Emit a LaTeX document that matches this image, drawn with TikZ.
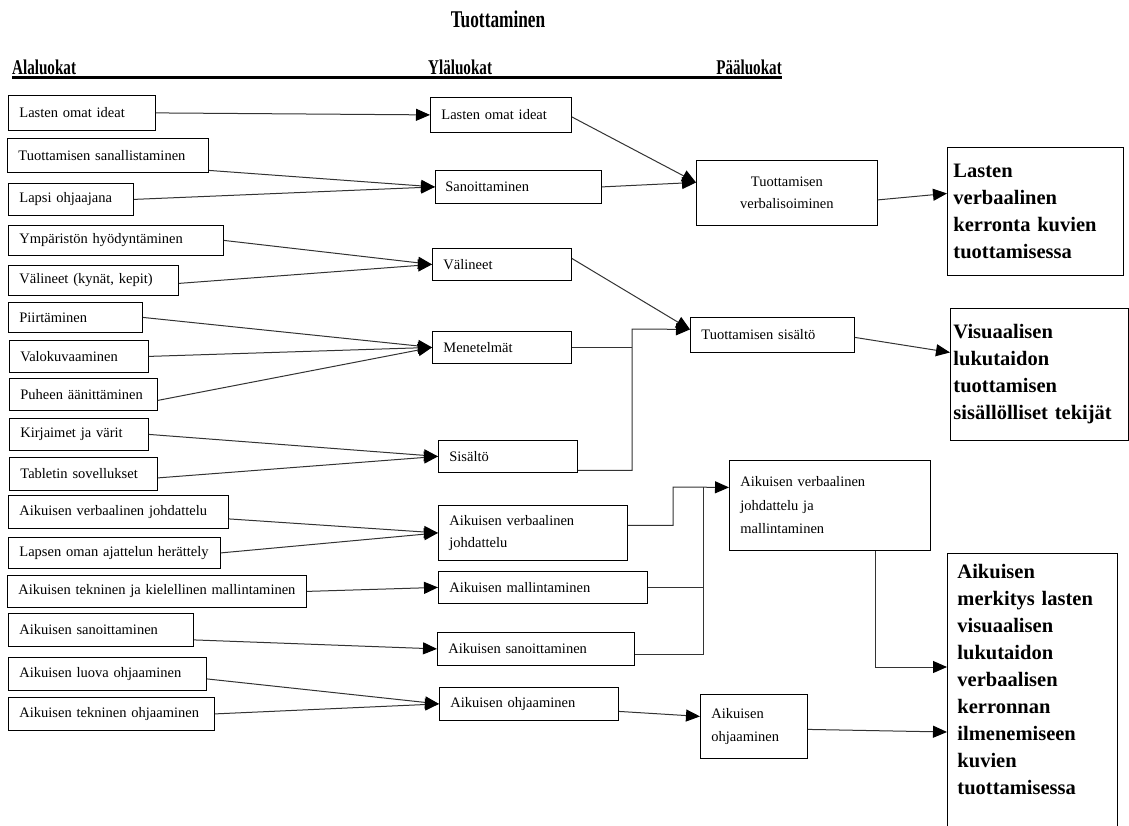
\documentclass[tikz,border=0pt]{standalone}
\usepackage{fontspec}
\usepackage{graphicx}
\setmainfont{Liberation Serif}
\usetikzlibrary{arrows.meta,calc}
\begin{document}
\begin{tikzpicture}[x=1pt,y=-1pt,
  bx/.style={draw=black, line width=0.8pt, anchor=north west, inner xsep=11pt, inner ysep=0pt, align=left, font=\fontsize{14.5}{22}\selectfont},
  bbx/.style={draw=black, line width=0.9pt, anchor=north west, inner xsep=10pt, inner ysep=0pt, align=left, font=\fontsize{20.5}{27}\selectfont\bfseries},
  ln/.style={draw=black!80, line width=1pt},
  arr/.style={ln, -{Triangle[length=14pt,width=12pt,color=black,fill=black]}},
  hd/.style={inner sep=0pt, font=\fontsize{21}{21}\selectfont\bfseries}
]
\useasboundingbox (0,0) rectangle (1129,825);
\fill[white] (0,0) rectangle (1129,825);

% headers
\node[hd, anchor=base] (title) at (498,27) {\scalebox{0.72}[1]{\fontsize{24}{24}\selectfont Tuottaminen}};
\node[hd, anchor=base west] (hA) at (12,74) {\scalebox{0.72}[1]{Alaluokat}};
\node[hd, anchor=base west] (hY) at (428,74) {\scalebox{0.72}[1]{Yläluokat}};
\node[hd, anchor=base east] (hP) at (782,74) {\scalebox{0.72}[1]{Pääluokat}};
\draw[line width=2.6pt] ([yshift=-3.5pt]hA.base west) -- ([yshift=-3.5pt]hP.base east);

% left column
\node[bx, text width=125pt, minimum height=35pt] (l1) at (8,95) {Lasten omat ideat};
\node[bx, text width=179pt, minimum height=34pt] (l2) at (7,138) {Tuottamisen sanallistaminen};
\node[bx, text width=103pt, minimum height=32pt] (l3) at (8,183) {Lapsi ohjaajana};
\node[bx, text width=193pt, minimum height=30pt] (l4) at (8,225) {Ympäristön hyödyntäminen};
\node[bx, text width=148pt, minimum height=30pt] (l5) at (8,265) {Välineet (kynät, kepit)};
\node[bx, text width=112pt, minimum height=30pt] (l6) at (8,302) {Piirtäminen};
\node[bx, text width=117pt, minimum height=32pt] (l7) at (9,340) {Valokuvaaminen};
\node[bx, text width=126pt, minimum height=32pt] (l8) at (9,378) {Puheen äänittäminen};
\node[bx, text width=117pt, minimum height=32pt] (l9) at (9,418) {Kirjaimet ja värit};
\node[bx, text width=126pt, minimum height=33pt] (l10) at (9,457) {Tabletin sovellukset};
\node[bx, text width=198pt, minimum height=33pt] (l11) at (8,495) {Aikuisen verbaalinen johdattelu};
\node[bx, text width=190pt, minimum height=31pt] (l12) at (8,537) {Lapsen oman ajattelun herättely};
\node[bx, text width=287pt, inner xsep=6pt, minimum height=32pt] (l13) at (7,575) {\hspace*{5pt}Aikuisen tekninen ja kielellinen mallintaminen};
\node[bx, text width=163pt, minimum height=33pt] (l14) at (8,613) {Aikuisen sanoittaminen};
\node[bx, text width=176pt, minimum height=33pt] (l15) at (8,657) {Aikuisen luova ohjaaminen};
\node[bx, text width=184pt, minimum height=33pt] (l16) at (8,697) {Aikuisen tekninen ohjaaminen};

% middle column
\node[bx, text width=119pt, minimum height=35pt] (m1) at (430,97) {Lasten omat ideat};
\node[bx, text width=146pt, minimum height=33pt, inner xsep=10pt] (m2) at (435,170) {Sanoittaminen};
\node[bx, text width=117pt, minimum height=32pt] (m3) at (432,248) {Välineet};
\node[bx, text width=117pt, minimum height=32pt] (m4) at (432,331) {Menetelmät};
\node[bx, text width=117pt, minimum height=32pt] (m5) at (438,440) {Sisältö};
\node[bx, text width=167pt, minimum height=55pt] (m6) at (438,505) {Aikuisen verbaalinen\\johdattelu};
\node[bx, text width=187pt, minimum height=32pt] (m7) at (438,571) {Aikuisen mallintaminen};
\node[bx, text width=175pt, minimum height=33pt] (m8) at (437,632) {Aikuisen sanoittaminen};
\node[bx, text width=157pt, minimum height=33pt] (m9) at (439,687) {Aikuisen ohjaaminen};

% right-middle column
\node[bx, align=center, text width=159pt, minimum height=65pt] (r1) at (696,160) {Tuottamisen\\verbalisoiminen};
\node[bx, text width=142pt, minimum height=35pt] (r2) at (690,317) {Tuottamisen sisältö};
\node[bx, text width=179pt, minimum height=90pt, font=\fontsize{14.5}{23.5}\selectfont] (r3) at (729,460) {Aikuisen verbaalinen\\johdattelu ja\\mallintaminen};
\node[bx, text width=85pt, minimum height=64pt, font=\fontsize{14.5}{23}\selectfont] (r4) at (700,694) {Aikuisen\\ohjaaminen};

% main categories
\node[bbx, text width=164pt, inner xsep=6pt, minimum height=128pt] (f1) at (947,147) {Lasten\\verbaalinen\\kerronta kuvien\\tuottamisessa};
\node[bbx, text width=172pt, inner xsep=3pt, minimum height=132pt] (f2) at (950,308) {Visuaalisen\\lukutaidon\\tuottamisen\\sisällölliset tekijät};
\node[bbx, draw=none, text width=150pt, inner ysep=11pt] (f3) at (947,553) {Aikuisen\\merkitys lasten\\visuaalisen\\lukutaidon\\verbaalisen\\kerronnan\\ilmenemiseen\\kuvien\\tuottamisessa};
\coordinate (bot) at (0,830);
\draw[line width=0.9pt] (f3.north west |- bot) -- (f3.north west) -- (f3.north east) -- (f3.north east |- bot);

% connectors: left to middle
\draw[arr] (l1.east) -- (m1.west);
\draw[arr] ([yshift=-15pt]l2.east) -- (m2.west);
\draw[arr] (l3.east) -- (m2.west);
\draw[arr] (l4.east) -- (m3.west);
\draw[arr] ([yshift=-3pt]l5.east) -- (m3.west);
\draw[arr] (l6.east) -- (m4.west);
\draw[arr] (l7.east) -- (m4.west);
\draw[arr] ([yshift=-6pt]l8.east) -- (m4.west);
\draw[arr] (l9.east) -- (m5.west);
\draw[arr] ([yshift=-4pt]l10.east) -- (m5.west);
\draw[arr] ([yshift=-7pt]l11.east) -- (m6.west);
\draw[arr] (l12.east) -- (m6.west);
\draw[arr] (l13.east) -- (m7.west);
\draw[arr] ([yshift=-10pt]l14.east) -- (m8.west);
\draw[arr] ([yshift=-5pt]l15.east) -- (m9.west);
\draw[arr] (l16.east) -- (m9.west);

% middle to right
\draw[arr] ([yshift=-2pt]m1.east) -- ([yshift=10.5pt]r1.west);
\draw[arr] (m2.east) -- ([yshift=10.5pt]r1.west);
\draw[arr] ([yshift=-7pt]r1.east) -- ([yshift=18pt]f1.west);
\draw[arr] ([yshift=6pt]m3.east) -- ([yshift=5.5pt]r2.west);
\coordinate (busA) at (632,329);
\draw[ln] (m4.east) -- (m4.east -| busA);
\draw[arr] ([yshift=-14pt]m5.east) -| (busA) -- ([yshift=5.5pt]r2.west);
\draw[arr] ([yshift=-2.5pt]r2.east) -- ([yshift=22pt]f2.west);
\coordinate (busB) at (673,487);
\coordinate (busC) at (703,487);
\draw[arr] ([yshift=7.5pt]m6.east) -| (busB) -- ([yshift=18pt]r3.west);
\draw[ln] (m7.east) -- (m7.east -| busC);
\draw[ln] ([yshift=-5.5pt]m8.east) -| (busC);
\draw[arr] ([yshift=-7.5pt]m9.east) -- ([yshift=10pt]r4.west);
\draw[arr] ([xshift=-55pt]r3.south east) |- ([yshift=-114pt]f3.north west);
\draw[arr] ([yshift=-3pt]r4.east) -- ([yshift=-179pt]f3.north west);
\end{tikzpicture}
\end{document}
